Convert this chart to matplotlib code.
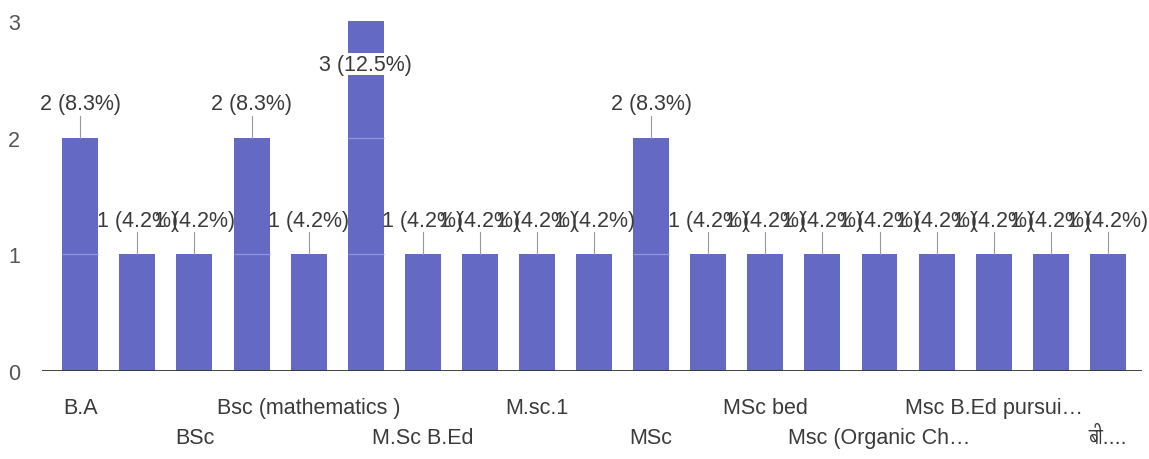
import matplotlib
matplotlib.use("Agg")
import matplotlib.pyplot as plt
from matplotlib import font_manager
from matplotlib.ft2font import FT2Font

# categories (odd ones are not labelled in the original chart)
categories = ["B.A", "", "BSc", "", "Bsc (mathematics )", "", "M.Sc B.Ed", "",
              "M.sc.1", "", "MSc", "", "MSc bed", "", "Msc (Organic Ch\u2026", "",
              "Msc B.Ed pursui\u2026", "", "बी...."]
counts = [2, 1, 1, 2, 1, 3, 1, 1, 1, 1, 2, 1, 1, 1, 1, 1, 1, 1, 1]
total = sum(counts)


def find_font_for(ch):
    found = []
    for f in font_manager.fontManager.ttflist:
        try:
            if ord(ch) in FT2Font(f.fname).get_charmap():
                found.append(f.name)
        except Exception:
            pass
    return found


deva = find_font_for("ब")
families = ['Liberation Sans'] + sorted(set(deva)) + ['DejaVu Sans']
plt.rcParams['font.family'] = families

bar_color = "#6469c4"
text_color = "#3a3a3a"
fs = 15.5

fig = plt.figure(figsize=(11.49, 4.6), dpi=100)
ax = fig.add_axes([0.0366, 0.191, 0.9574, 0.761])

x = list(range(len(counts)))
bars = ax.bar(x, counts, width=0.63, color=bar_color, zorder=2)

ax.set_ylim(0, 3)
ax.set_xlim(-0.67, len(counts) - 0.4)
ax.set_yticks([0, 1, 2, 3])
ax.set_yticklabels(["0", "1", "2", "3"])
ax.tick_params(axis='y', length=0, pad=16, labelsize=fs, labelcolor="#555555")
ax.set_xticks([])

# faint grid lines only show through the bars in the scan
for b in bars:
    for y in [1, 2]:
        if y < b.get_height():
            ax.hlines(y, b.get_x(), b.get_x() + b.get_width(),
                      color="#8f98dc", lw=0.9, zorder=3)
ax.axhline(0, color="#333333", lw=1.3, zorder=4)

for s in ax.spines.values():
    s.set_visible(False)

# value labels with tick lines
for i, c in enumerate(counts):
    pct = 100.0 * c / total
    label = "%d (%.1f%%)" % (c, pct)
    if c == 3:
        ax.text(i, c - 0.37, label, ha='center', va='center', fontsize=fs,
                color=text_color, zorder=6,
                bbox=dict(facecolor='white', edgecolor='none', pad=0.5))
    else:
        ax.plot([i, i], [c, c + 0.19], color="#999999", lw=0.8, zorder=3)
        ax.text(i, c + 0.29, label, ha='center', va='center', fontsize=fs,
                color=text_color, zorder=5)

# category labels, alternating rows
for i, name in enumerate(categories):
    if not name:
        continue
    row = (i // 2) % 2
    offset = -0.31 if row == 0 else -0.57
    ax.text(i, offset, name, ha='center', va='center', fontsize=fs,
            color=text_color, clip_on=False)

fig.savefig("out.png", dpi=100)
